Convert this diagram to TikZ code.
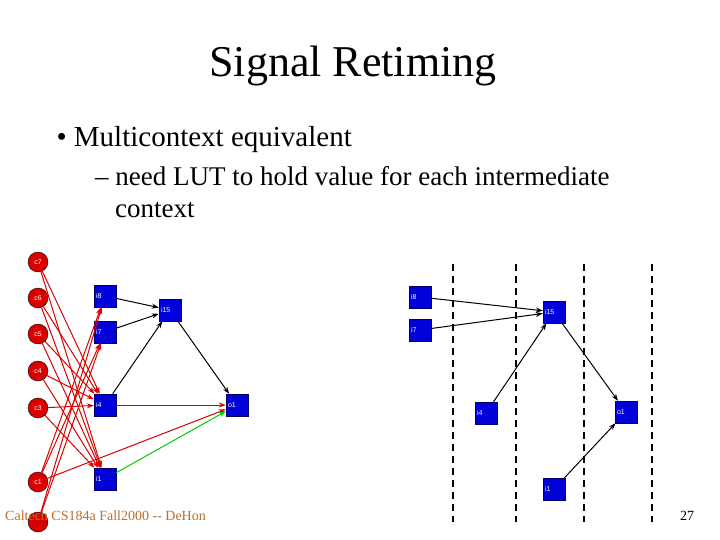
\documentclass[tikz,border=0pt]{standalone}
\usepackage{fontspec}
\setmainfont{Liberation Serif}
\newfontfamily\lsans{Liberation Sans}
\usetikzlibrary{arrows.meta}
\begin{document}
\begin{tikzpicture}[x=1pt,y=-1pt,
  cn/.style={circle,draw=black,fill=red!85!black,minimum size=20pt,inner sep=0pt,font=\lsans\fontsize{7}{7}\selectfont,text=white},
  sq/.style={rectangle,draw=blue!40!black,fill=blue!85!black,minimum size=22pt,inner sep=1pt,font=\lsans\fontsize{7}{7}\selectfont,text=white,anchor=center,align=left,text width=18pt},
  ar/.style={-{Stealth[length=7pt,width=5pt]},line width=1pt},
  re/.style={ar,draw=red!85!black},
  bl/.style={ar,draw=black},
  gr/.style={ar,draw=green!80!black},
  dl/.style={dashed,line width=1.2pt,dash pattern=on 7pt off 5pt}]
\useasboundingbox (0,0) rectangle (720,540);
\node[font=\fontsize{44}{44}\selectfont] (title) at (353,66) {Signal Retiming};
\node[anchor=west,font=\fontsize{29}{29}\selectfont] (b1) at (53,140) {\textbullet\ Multicontext equivalent};
\node[anchor=north west,align=left,font=\fontsize{27}{32}\selectfont,inner sep=0pt] (b2) at (95,166) {– need LUT to hold value for each intermediate\\\hspace*{20pt}context};
% left graph
\node[cn] (c7) at (38,262) {c7};
\node[cn] (c6) at (38,298) {c6};
\node[cn] (c5) at (38,334) {c5};
\node[cn] (c4) at (38,371) {c4};
\node[cn] (c3) at (38,408) {c3};
\node[cn] (c1) at (38,482) {c1};
\node[cn] (c0) at (38,522) {};
\node[sq] (i8) at (105,296) {i8};
\node[sq] (i7) at (105,332) {i7};
\node[sq] (i4) at (105,405) {i4};
\node[sq] (i1) at (105,479) {i1};
\node[sq] (i15) at (170,310) {i15};
\node[sq] (o1) at (237,405) {o1};
\foreach \c in {c7,c6,c5,c4,c3}{\draw[re] (\c) -- (i4); \draw[re] (\c) -- (i1);}
\foreach \c in {c1,c0}{\draw[re] (\c) -- (i8); \draw[re] (\c) -- (i7);}
\draw[re] (c1) -- (o1);
\draw[re] (i4) -- (o1);
\draw[gr] (i1) -- (o1);
\foreach \s in {i8,i7,i4}{\draw[bl] (\s) -- (i15);}
\draw[bl] (i15) -- (o1);
% right graph
\foreach \x/\n in {453/d1,516/d2,584/d3,652/d4}{
  \coordinate (\n t) at (\x,264); \coordinate (\n b) at (\x,522);
  \draw[dl] (\n t) -- (\n b);}
\node[sq] (ri8) at (420,297) {i8};
\node[sq] (ri7) at (420,330) {i7};
\node[sq] (ri4) at (486,413) {i4};
\node[sq] (ri15) at (554,312) {i15};
\node[sq] (ro1) at (626,412) {o1};
\node[sq] (ri1) at (554,489) {i1};
\foreach \s in {ri8,ri7,ri4}{\draw[bl] (\s) -- (ri15);}
\draw[bl] (ri15) -- (ro1);
\draw[bl] (ri1) -- (ro1);
% footer
\node[anchor=west,text={rgb,255:red,190;green,110;blue,40},font=\fontsize{14}{14}\selectfont,inner sep=0pt] (foot) at (5,516) {Caltech CS184a Fall2000 -{}- DeHon};
\node[font=\fontsize{14}{14}\selectfont] (pg) at (687,516) {27};
\end{tikzpicture}
\end{document}
